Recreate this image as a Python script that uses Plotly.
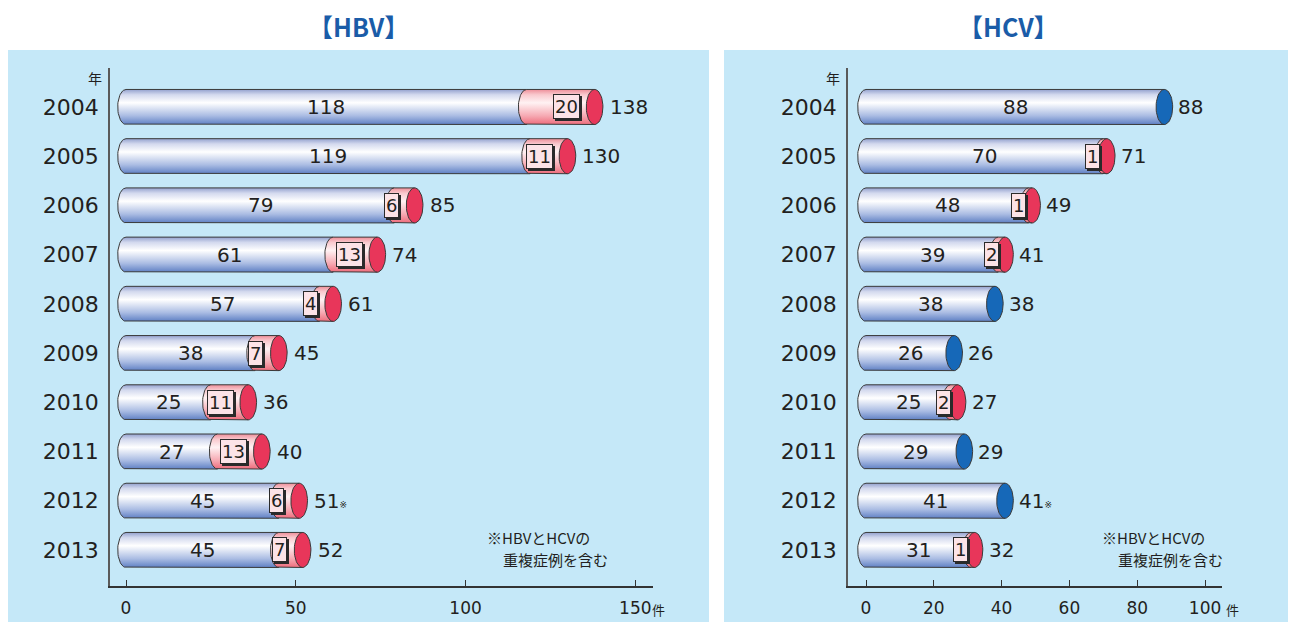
import numpy as np
import plotly.graph_objects as go

years = ["2004", "2005", "2006", "2007", "2008", "2009", "2010", "2011", "2012", "2013"]
hbv_main = [118, 119, 79, 61, 57, 38, 25, 27, 45, 45]
hbv_extra = [20, 11, 6, 13, 4, 7, 11, 13, 6, 7]
hbv_total = [138, 130, 85, 74, 61, 45, 36, 40, 51, 52]
hcv_main = [88, 70, 48, 39, 38, 26, 25, 29, 41, 31]
hcv_extra = [0, 1, 1, 2, 0, 0, 2, 0, 0, 1]
hcv_total = [88, 71, 49, 41, 38, 26, 27, 29, 41, 32]
note_year = "2012"
x_ticks_hbv = [0, 50, 100, 150]
x_ticks_hcv = [0, 20, 40, 60, 80, 100]

OFF = 8  # page body margin
W, H = 1296 - OFF, 622 - OFF
TXT = "#231F20"
EDGE = "#3A3A3A"
BLUE_SCALE = [[0, "#5F80C4"], [0.25, "#AABCE3"], [0.62, "#FFFFFF"], [0.85, "#D3D9EE"], [1, "#93A1CE"]]
PINK_SCALE = [[0, "#EE6C7C"], [0.25, "#F6AAB3"], [0.62, "#FFF2F3"], [0.85, "#F9C9CE"], [1, "#EE8E99"]]
RED_CAP = "#E8365A"
BLUE_CAP = "#1668B8"
RX = 2.45   # ellipse half-width in data units
RY = 0.356  # half bar thickness in category units
NUM_FONT = "DejaVu Sans"
JP_FONT = "Noto Sans CJK JP"


def px(x):
    return (x - OFF) / W


def py(y):
    return 1 - (y - OFF) / H


def seg_poly(a, b, i):
    t = np.linspace(np.pi / 2, 3 * np.pi / 2, 30)
    xs = [a, b, b, a] + list(a + RX * np.cos(t))
    ys = [i - RY, i - RY, i + RY, i + RY] + list(i + RY * np.sin(t))
    return xs, ys


def ellipse(c, i):
    t = np.linspace(0, 2 * np.pi, 50)
    return list(c + RX * np.cos(t)), list(i + RY * np.sin(t))


fig = go.Figure()
annotations = []


def panel(main, extra, total, xa, ya, box_off, label_off):
    for i, yr in enumerate(years):
        xs, ys = seg_poly(0, main[i], i)
        fig.add_trace(go.Scatter(x=xs, y=ys, fill="toself", mode="lines",
                                 line=dict(color=EDGE, width=1),
                                 fillgradient=dict(type="vertical", colorscale=BLUE_SCALE),
                                 xaxis=xa, yaxis=ya, hoverinfo="skip", showlegend=False))
        if extra[i] > 0:
            xs, ys = seg_poly(main[i], total[i], i)
            fig.add_trace(go.Scatter(x=xs, y=ys, fill="toself", mode="lines",
                                     line=dict(color=EDGE, width=1),
                                     fillgradient=dict(type="vertical", colorscale=PINK_SCALE),
                                     xaxis=xa, yaxis=ya, hoverinfo="skip", showlegend=False))
        xs, ys = ellipse(total[i], i)
        fig.add_trace(go.Scatter(x=xs, y=ys, fill="toself", mode="lines",
                                 line=dict(color=EDGE, width=1),
                                 fillcolor=RED_CAP if extra[i] > 0 else BLUE_CAP,
                                 xaxis=xa, yaxis=ya, hoverinfo="skip", showlegend=False))
        annotations.append(dict(x=main[i] / 2, y=i, xref=xa, yref=ya, text=str(main[i]),
                                xanchor="center", yanchor="middle", showarrow=False,
                                font=dict(family=NUM_FONT, size=20, color=TXT)))
        t = str(total[i])
        if yr == note_year:
            t += "<span style='font-size:9px'>※</span>"
        annotations.append(dict(x=total[i], y=i, xref=xa, yref=ya, text=t, xanchor="left",
                                yanchor="middle", xshift=label_off, showarrow=False,
                                font=dict(family=NUM_FONT, size=20, color=TXT)))
        if extra[i] > 0:
            s = str(extra[i])
            hw = 8 if len(s) == 1 else 13
            for sh, bg, fc in ((2, "#2A2A2A", "#2A2A2A"), (0, "#FCE3E7", TXT)):
                annotations.append(dict(x=total[i], y=i, xref=xa, yref=ya, text=s,
                                        xanchor="center", yanchor="middle",
                                        xshift=-(box_off + hw) + sh, yshift=-sh,
                                        showarrow=False, bgcolor=bg, bordercolor="#2A2A2A",
                                        borderwidth=1, borderpad=1,
                                        font=dict(family=NUM_FONT, size=18, color=fc)))


panel(hbv_main, hbv_extra, hbv_total, "x", "y", 15, 13)
panel(hcv_main, hcv_extra, hcv_total, "x2", "y2", 6, 12)


def paper_text(x, y, text, size, color=TXT, font=JP_FONT, xanchor="center", align="center",
               weight="normal"):
    annotations.append(dict(x=px(x), y=py(y), xref="paper", yref="paper", text=text,
                            xanchor=xanchor, yanchor="middle", align=align, showarrow=False,
                            font=dict(family=font, size=size, color=color, weight=weight)))


paper_text(358, 26, "【HBV】", 25, color="#1A5CA8", weight="bold")
paper_text(1008, 26, "【HCV】", 25, color="#1A5CA8", weight="bold")
for xc in (95, 833):
    paper_text(xc, 78, "年", 14)
for xc in (658, 1232):
    paper_text(xc, 609, "件", 13)
for xc in (485, 1100):
    paper_text(xc, 537, "※HBVとHCVの", 15, xanchor="left", align="left")
    paper_text(xc + 16, 559, "重複症例を含む", 15, xanchor="left", align="left")

ydom = [py(586), py(68)]
yrange = [9.732, -0.792]
common_x = dict(showline=True, linecolor="#333333", linewidth=1.5, ticks="inside", ticklen=6,
                tickcolor="#333333", showgrid=False, zeroline=False,
                tickfont=dict(family=NUM_FONT, size=17, color=TXT), ticklabelstandoff=6)
common_y = dict(showline=True, linecolor="#5A5A5A", linewidth=1.5, ticks="outside", ticklen=5,
                tickcolor="rgba(0,0,0,0)", showgrid=False, zeroline=False, range=yrange,
                tickvals=list(range(len(years))), ticktext=years, domain=ydom,
                tickfont=dict(family=NUM_FONT, size=22, color=TXT))

fig.update_layout(
    width=W, height=H, margin=dict(l=0, r=0, t=0, b=0, autoexpand=False),
    paper_bgcolor="white", plot_bgcolor="rgba(0,0,0,0)",
    xaxis=dict(domain=[px(110), px(653)], range=[-4.72, 155.2], anchor="y",
               tickvals=x_ticks_hbv, ticktext=[str(v) for v in x_ticks_hbv], **common_x),
    yaxis=dict(anchor="x", **common_y),
    xaxis2=dict(domain=[px(848), px(1222)], range=[-5.31, 105.0], anchor="y2",
                tickvals=x_ticks_hcv, ticktext=[str(v) for v in x_ticks_hcv], **common_x),
    yaxis2=dict(anchor="x2", **common_y),
    shapes=[
        dict(type="rect", xref="paper", yref="paper", x0=px(7), x1=px(709), y0=-0.05, y1=py(50),
             fillcolor="#C5E8F8", line=dict(width=0), layer="below"),
        dict(type="rect", xref="paper", yref="paper", x0=px(724), x1=px(1292), y0=-0.05, y1=py(50),
             fillcolor="#C5E8F8", line=dict(width=0), layer="below"),
    ],
    annotations=annotations,
)

fig.write_html("out.html")
